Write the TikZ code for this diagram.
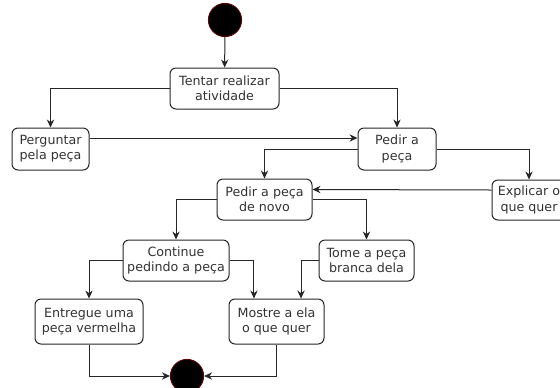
\documentclass[tikz,border=0pt]{standalone}
\usepackage{fontspec}
\setmainfont{DejaVu Sans}
\usepackage{tikz}
\usetikzlibrary{arrows.meta}

\tikzset{
    acao/.style={draw=black!85, line width=0.75pt, rounded corners=4.5pt, align=center,
        inner sep=0pt, text=black!80, font=\fontsize{9.5}{11.5}\selectfont},
    inicio/.style={circle, fill=black, draw=red!40!black, line width=0.6pt, minimum size=25pt, inner sep=0pt},
    fluxo/.style={draw=black!85, line width=0.75pt, -{Stealth[length=6pt,width=5.5pt]}}
}

\begin{document}
\begin{tikzpicture}[x=0.75pt, y=-0.75pt]
        % Frame of the picture
        \clip (0,0) rectangle (560,387);
        \fill[white] (0,0) rectangle (560,387);

        % Start and end
        \node[inicio] (ini) at (225,20) {};
        \node[inicio] (fim) at (187,376) {};

        % Activities
        \node[acao, minimum width=81.75pt, minimum height=30.75pt] (tentar) at (224.5,88.5) {Tentar realizar\\atividade};
        \node[acao, minimum width=57.75pt, minimum height=31.5pt] (perguntar) at (50.5,149) {Perguntar\\pela peça};
        \node[acao, minimum width=58.5pt, minimum height=31.5pt] (pedir) at (397,149) {Pedir a\\peça};
        \node[acao, minimum width=71.25pt, minimum height=30.75pt] (novo) at (264.5,199.5) {Pedir a peça\\de novo};
        \node[acao, minimum width=55.5pt, minimum height=30pt] (explicar) at (529,200) {Explicar o\\que quer};
        \node[acao, minimum width=79.5pt, minimum height=30.75pt] (continue) at (176,260.5) {Continue\\pedindo a peça};
        \node[acao, minimum width=71.25pt, minimum height=30.75pt] (tome) at (366.5,260.5) {Tome a peça\\branca dela};
        \node[acao, minimum width=81pt, minimum height=33.75pt] (entregue) at (89,321.5) {Entregue uma\\peça vermelha};
        \node[acao, minimum width=71.25pt, minimum height=33.75pt] (mostre) at (276.5,321.5) {Mostre a ela\\o que quer};

        % Flow
        \draw[fluxo] (ini) -- (tentar);
        \draw[fluxo] (tentar.west) -| (perguntar.north);
        \draw[fluxo] (tentar.east) -| (pedir.north);
        \draw[fluxo] ([yshift=8.25pt]perguntar.east) -- ([yshift=8.25pt]pedir.west);
        \draw[fluxo] (pedir.west) -| (novo.north);
        \draw[fluxo] (pedir.east) -| (explicar.north);
        \draw[fluxo] ([yshift=7.5pt]explicar.west) -- ([yshift=7.5pt]novo.east);
        \draw[fluxo] (novo.west) -| (continue.north);
        \draw[fluxo] (novo.east) -| (tome.north);
        \draw[fluxo] (continue.west) -| (entregue.north);
        \draw[fluxo] (continue.east) -| ([xshift=-16.9pt]mostre.north);
        \draw[fluxo] (tome.west) -| ([xshift=18.4pt]mostre.north);
        \draw[fluxo] (entregue.south) |- (fim.west);
        \draw[fluxo] (mostre.south) |- (fim.east);
    \end{tikzpicture}
\end{document}
